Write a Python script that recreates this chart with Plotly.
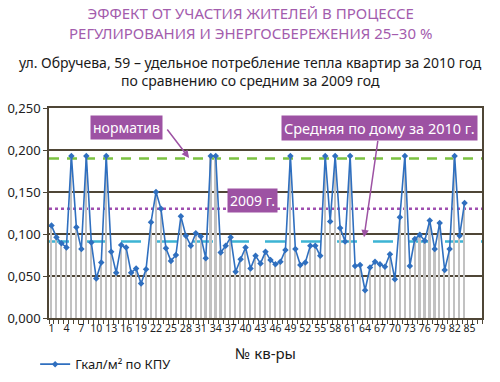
import plotly.graph_objects as go

apartments = list(range(1, 85))
gcal_per_m2 = [
    0.110, 0.096, 0.089, 0.084, 0.193, 0.108, 0.082, 0.193, 0.090, 0.047,
    0.066, 0.193, 0.079, 0.054, 0.087, 0.084, 0.054, 0.059, 0.041, 0.058,
    0.114, 0.150, 0.130, 0.083, 0.068, 0.075, 0.121, 0.098, 0.086, 0.101,
    0.097, 0.071, 0.193, 0.193, 0.078, 0.086, 0.096, 0.055, 0.070, 0.084,
    0.059, 0.074, 0.065, 0.079, 0.069, 0.064, 0.067, 0.081, 0.193, 0.082,
    0.063, 0.066, 0.086, 0.086, 0.074, 0.193, 0.115, 0.193, 0.107, 0.091,
    0.193, 0.062, 0.063, 0.033, 0.060, 0.067, 0.064, 0.061, 0.076, 0.046,
    0.120, 0.193, 0.062, 0.094, 0.099, 0.092, 0.116, 0.082, 0.113, 0.057,
    0.082, 0.193, 0.098, 0.137,
]
n_categories = 87
tick_labels = list(range(1, 86, 3))
y_ticks = [0.0, 0.05, 0.10, 0.15, 0.20, 0.25]

norm_value = 0.19
avg_2009 = 0.13
avg_2010 = 0.091

title_lines = ["ЭФФЕКТ ОТ УЧАСТИЯ ЖИТЕЛЕЙ В ПРОЦЕССЕ",
               "РЕГУЛИРОВАНИЯ И ЭНЕРГОСБЕРЕЖЕНИЯ 25–30 %"]
subtitle_lines = ["ул. Обручева, 59 – удельное потребление тепла квартир за 2010 год",
                  "по сравнению со средним за 2009 год"]

FONT = "Noto Sans"
PURPLE = "#9d52a3"
GRID = "#4f4636"

fig = go.Figure()

# drop lines
fig.add_trace(go.Bar(
    x=apartments, y=gcal_per_m2, width=0.32,
    marker=dict(color="#c2c2c2", line=dict(width=0)),
    showlegend=False, hoverinfo="skip",
))

fig.add_trace(go.Scatter(
    x=apartments, y=gcal_per_m2, mode="lines+markers",
    name="Гкал/м² по КПУ",
    line=dict(color="#2f6fbf", width=1.6),
    marker=dict(symbol="diamond", size=5, color="#2f6fbf"),
))

# reference lines
fig.add_shape(type="line", xref="paper", x0=0, x1=1, yref="y", y0=norm_value, y1=norm_value,
              line=dict(color="#7cc242", width=2.5, dash="10px,8px"), layer="below")
fig.add_shape(type="line", xref="paper", x0=0, x1=1, yref="y", y0=avg_2009, y1=avg_2009,
              line=dict(color="#a04fb0", width=2.5, dash="dot"), layer="below")
fig.add_shape(type="line", xref="paper", x0=0, x1=1, yref="y", y0=avg_2010, y1=avg_2010,
              line=dict(color="#3db4d4", width=2.5, dash="20px,16px"), layer="below")

box = dict(bgcolor=PURPLE, font=dict(family=FONT, size=14, color="white"),
           showarrow=False, borderpad=2)
fig.add_annotation(x=16.0, y=0.2265, text="норматив", **box)
fig.add_annotation(x=66.9, y=0.2265, text="Средняя по дому за 2010 г.",
                   bgcolor=PURPLE, font=dict(family=FONT, size=14.5, color="white"),
                   showarrow=False, borderpad=2)
fig.add_annotation(x=41.4, y=0.140, text="2009 г.", **box)

arrow = dict(text="", showarrow=True, arrowcolor=PURPLE, arrowwidth=1.5,
             arrowhead=2, arrowsize=1, axref="pixel", ayref="pixel")
fig.add_annotation(x=28.65, y=0.1905, ax=-23, ay=-30, **arrow)
fig.add_annotation(x=63.8, y=0.096, ax=14, ay=-98, **arrow)

# titles
fig.add_annotation(xref="paper", yref="paper", x=0.466, y=1.0, yshift=85, xanchor="center",
                   yanchor="middle", showarrow=False,
                   text="<br>".join(title_lines),
                   font=dict(family=FONT, size=15, color="#a35cad"))
fig.add_annotation(xref="paper", yref="paper", x=0.466, y=1.0, yshift=37, xanchor="center",
                   yanchor="middle", showarrow=False,
                   text="<br>".join(subtitle_lines),
                   font=dict(family=FONT, size=14, color="#1a1a1a"))
fig.add_annotation(xref="paper", yref="paper", x=0.499, y=0, yshift=-35, xanchor="center",
                   yanchor="middle", showarrow=False, text="№ кв-ры",
                   font=dict(family=FONT, size=15, color="#1a1a1a"))

fig.update_layout(
    width=500, height=382,
    margin=dict(l=49, r=18, t=108, b=64, autoexpand=False),
    paper_bgcolor="white", plot_bgcolor="white",
    separators=", ",
    bargap=0,
    font=dict(family=FONT, color="#222"),
    legend=dict(orientation="h", x=-0.032, y=-0.22, xanchor="left", yanchor="middle",
                font=dict(family=FONT, size=13, color="#1a1a1a"),
                bgcolor="rgba(0,0,0,0)", itemwidth=30),
)

fig.update_xaxes(
    range=[0.5, n_categories + 0.5],
    tickmode="array", tickvals=tick_labels, ticktext=[str(t) for t in tick_labels],
    tickangle=0, tickfont=dict(family=FONT, size=10.5, color="#222"),
    ticks="", showgrid=False, zeroline=False,
    showline=True, linecolor=GRID, linewidth=1.5, mirror=True,
    minor=dict(tick0=0.5, dtick=1, ticks="outside", ticklen=4, tickcolor=GRID, tickwidth=1),
)
fig.update_yaxes(
    range=[0, 0.25], tickmode="array", tickvals=y_ticks, tickformat=".3f",
    tickfont=dict(family=FONT, size=13, color="#222"),
    showgrid=True, gridcolor=GRID, gridwidth=1.5, zeroline=False,
    showline=True, linecolor=GRID, linewidth=1.5, mirror=True,
    ticks="outside", ticklen=4, tickcolor=GRID,
)

fig.write_html("out.html", config={"displayModeBar": False},
               post_script="document.body.style.margin='0';document.body.style.overflow='hidden';")
